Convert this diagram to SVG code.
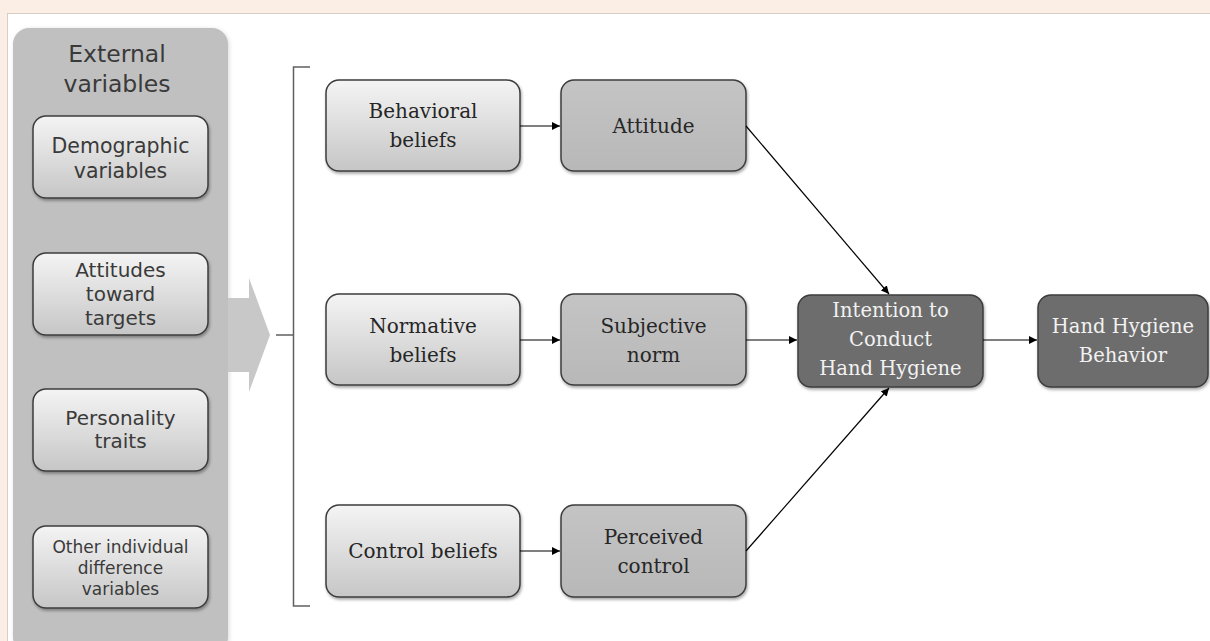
<svg xmlns="http://www.w3.org/2000/svg" width="1210" height="641" viewBox="0 0 1210 641">
<defs>
<linearGradient id="gLight" x1="0" y1="0" x2="0" y2="1">
<stop offset="0" stop-color="#f4f4f4"/>
<stop offset="1" stop-color="#c6c6c6"/>
</linearGradient>
<linearGradient id="gMid" x1="0" y1="0" x2="0" y2="1">
<stop offset="0" stop-color="#c4c4c4"/>
<stop offset="1" stop-color="#b8b8b8"/>
</linearGradient>
<filter id="sh" x="-10%" y="-10%" width="130%" height="130%">
<feDropShadow dx="1" dy="2" stdDeviation="1.5" flood-color="#000" flood-opacity="0.35"/>
</filter>
<filter id="sh2" x="-10%" y="-10%" width="130%" height="130%">
<feDropShadow dx="1" dy="1" stdDeviation="2" flood-color="#000" flood-opacity="0.15"/>
</filter>
<marker id="ah" viewBox="0 0 10 10" refX="10" refY="5" markerWidth="8" markerHeight="8" markerUnits="userSpaceOnUse" orient="auto">
<path d="M0,0 L10,5 L0,10 z" fill="#000"/>
</marker>
</defs>
<style>
.sans{font-family:"DejaVu Sans","Liberation Sans",sans-serif;fill:#3a3a3a;text-anchor:middle}
.serif{font-family:"DejaVu Serif","Liberation Serif",serif;fill:#262626;text-anchor:middle;font-size:20px}
.wserif{font-family:"DejaVu Serif","Liberation Serif",serif;fill:#f2f2f2;text-anchor:middle;font-size:19.5px}
.lbox{fill:url(#gLight);stroke:#3c3c3c;stroke-width:1.5;filter:url(#sh)}
.mbox{fill:url(#gMid);stroke:#3c3c3c;stroke-width:1.5;filter:url(#sh)}
.dbox{fill:#6d6d6d;stroke:#3c3c3c;stroke-width:1.5;filter:url(#sh)}
.conn{stroke:#000;stroke-width:1.2;fill:none;marker-end:url(#ah)}
</style>
<rect x="0" y="0" width="1210" height="641" fill="#fbeee5"/>
<rect x="7.5" y="13.5" width="1210" height="640" fill="#ffffff" stroke="#d9cdc5" stroke-width="1"/>

<g id="external-panel">
<rect x="13" y="28" width="215" height="625" rx="16" fill="#c0c0c0" filter="url(#sh2)"/>
<text class="sans" x="117" y="62" font-size="23.5">External</text>
<text class="sans" x="117" y="92" font-size="23.5">variables</text>
</g>
<g id="demographic">
<rect class="lbox" x="33" y="116" width="175" height="82" rx="13"/>
<text class="sans" x="120.5" y="153" font-size="20.5">Demographic</text>
<text class="sans" x="120.5" y="178" font-size="20.5">variables</text>
</g>
<g id="attitudes-targets">
<rect class="lbox" x="33" y="253" width="175" height="82" rx="13"/>
<text class="sans" x="120.5" y="277" font-size="20">Attitudes</text>
<text class="sans" x="120.5" y="301" font-size="20">toward</text>
<text class="sans" x="120.5" y="325" font-size="20">targets</text>
</g>
<g id="personality">
<rect class="lbox" x="33" y="389" width="175" height="82" rx="13"/>
<text class="sans" x="120.5" y="425" font-size="20">Personality</text>
<text class="sans" x="120.5" y="448" font-size="20">traits</text>
</g>
<g id="other-individual">
<rect class="lbox" x="33" y="526" width="175" height="82" rx="13"/>
<text class="sans" x="120.5" y="553" font-size="17">Other individual</text>
<text class="sans" x="120.5" y="574" font-size="17">difference</text>
<text class="sans" x="120.5" y="595" font-size="17">variables</text>
</g>
<g id="block-arrow">
<path d="M228,298 L249,298 L249,278 L270,335 L249,392 L249,372 L228,372 Z" fill="#c8c8c8"/>
</g>
<g id="bracket">
<path d="M310,67 L293.5,67 L293.5,606 L310,606 M293.5,335 L276,335" fill="none" stroke="#606060" stroke-width="1.5"/>
</g>

<g id="behavioral-beliefs">
<rect class="lbox" x="326" y="80" width="194" height="91" rx="13"/>
<text class="serif" x="423" y="118">Behavioral</text>
<text class="serif" x="423" y="147">beliefs</text>
</g>
<g id="attitude">
<rect class="mbox" x="561" y="80" width="185" height="91" rx="13"/>
<text class="serif" x="653.5" y="133">Attitude</text>
</g>
<g id="normative-beliefs">
<rect class="lbox" x="326" y="294" width="194" height="91" rx="13"/>
<text class="serif" x="423" y="333">Normative</text>
<text class="serif" x="423" y="362">beliefs</text>
</g>
<g id="subjective-norm">
<rect class="mbox" x="561" y="294" width="185" height="91" rx="13"/>
<text class="serif" x="653.5" y="333">Subjective</text>
<text class="serif" x="653.5" y="362">norm</text>
</g>
<g id="control-beliefs">
<rect class="lbox" x="326" y="505" width="194" height="92" rx="13"/>
<text class="serif" x="423" y="558">Control beliefs</text>
</g>
<g id="perceived-control">
<rect class="mbox" x="561" y="505" width="185" height="92" rx="13"/>
<text class="serif" x="653.5" y="544">Perceived</text>
<text class="serif" x="653.5" y="573">control</text>
</g>
<g id="intention">
<rect class="dbox" x="798" y="295" width="185" height="92" rx="13"/>
<text class="wserif" x="890.5" y="317">Intention to</text>
<text class="wserif" x="890.5" y="346">Conduct</text>
<text class="wserif" x="890.5" y="375">Hand Hygiene</text>
</g>
<g id="hand-hygiene-behavior">
<rect class="dbox" x="1038" y="295" width="170" height="92" rx="13"/>
<text class="wserif" x="1123" y="333">Hand Hygiene</text>
<text class="wserif" x="1123" y="362">Behavior</text>
</g>

<g id="connectors">
<line class="conn" x1="520" y1="126" x2="560" y2="126"/>
<line class="conn" x1="520" y1="340" x2="560" y2="340"/>
<line class="conn" x1="520" y1="551" x2="560" y2="551"/>
<line class="conn" x1="746" y1="340" x2="797" y2="340"/>
<line class="conn" x1="983" y1="340" x2="1037" y2="340"/>
<line class="conn" x1="746" y1="126" x2="889" y2="294"/>
<line class="conn" x1="746" y1="551" x2="889" y2="388"/>
</g>
</svg>
